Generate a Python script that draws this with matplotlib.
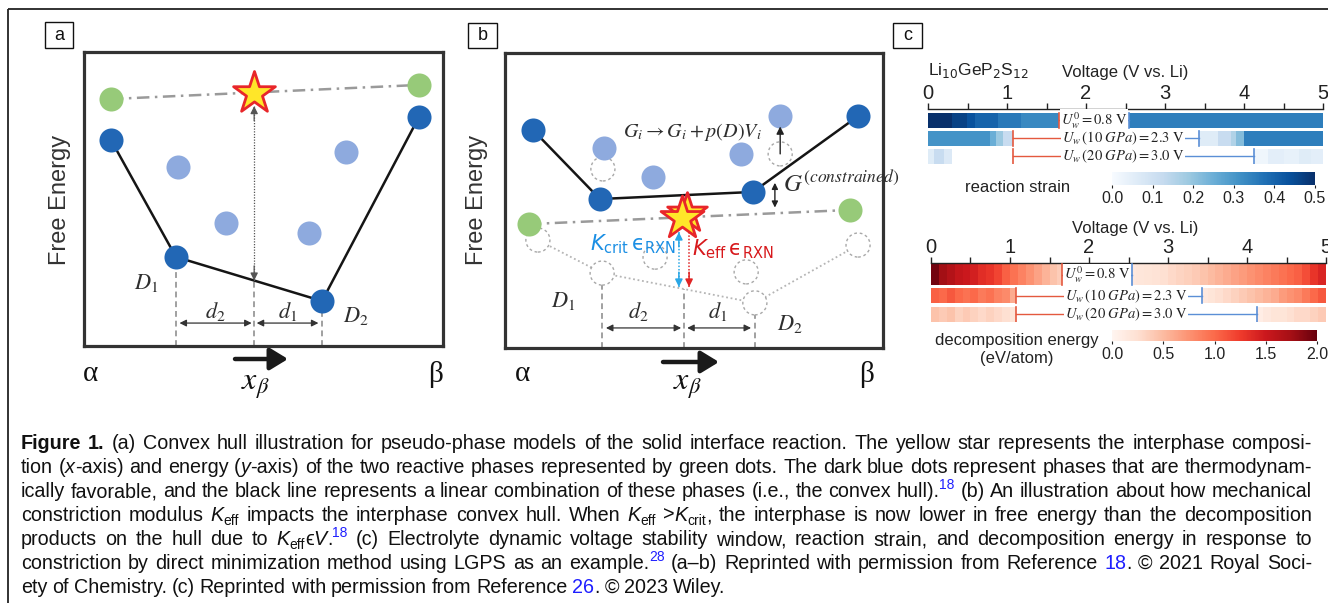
import re
import numpy as np
import matplotlib
matplotlib.use("Agg")
import matplotlib.pyplot as plt
from matplotlib.patches import Rectangle
from matplotlib.cm import ScalarMappable
from matplotlib.colors import Normalize
from matplotlib import font_manager

plt.rcParams['mathtext.fontset'] = 'stix'
SANS = ['Liberation Sans', 'DejaVu Sans']
SERIF = ['Liberation Serif', 'DejaVu Serif']
plt.rcParams['font.family'] = SANS
_names = {f.name for f in font_manager.fontManager.ttflist}
CAP_SANS = (['Liberation Sans Narrow'] if 'Liberation Sans Narrow' in _names else []) + SANS

W, H = 1328, 603
fig = plt.figure(figsize=(W / 100, H / 100), dpi=100, facecolor='white')

# ====================== DATA ======================
# --- panel a : convex hull (composition x_beta in [0,1], free energy in [0,1]) ---
a_green_x = [0.075, 0.933]
a_green_y = [0.840, 0.888]
a_star_x = [0.474]
a_star_y = [0.861]
a_hull_x = [0.075, 0.256, 0.663, 0.933]
a_hull_y = [0.701, 0.303, 0.153, 0.779]
a_light_x = [0.262, 0.396, 0.730, 0.627]
a_light_y = [0.609, 0.418, 0.660, 0.384]

# --- panel b : constrained hull ---
b_green_x = [0.063, 0.913]
b_green_y = [0.420, 0.468]
b_star_x = [0.468]
b_star_y = [0.441]
b_hull_x = [0.074, 0.251, 0.656, 0.934]
b_hull_y = [0.739, 0.505, 0.529, 0.786]
b_light_x = [0.262, 0.392, 0.624, 0.728]
b_light_y = [0.678, 0.580, 0.658, 0.786]
b_ghost_x = [0.259, 0.728]
b_ghost_y = [0.607, 0.658]
b_old_x = [0.087, 0.257, 0.397, 0.638, 0.661, 0.934]
b_old_y = [0.366, 0.254, 0.308, 0.258, 0.153, 0.349]
b_oldhull_x = [0.087, 0.257, 0.661, 0.934]
b_oldhull_y = [0.366, 0.254, 0.153, 0.349]

# --- panel c : voltage windows (V vs Li) ---
volt_ticks = [0, 1, 2, 3, 4, 5]
win_low = [1.66, 1.08, 1.08]
win_high = [2.55, 3.43, 4.13]
win_labels = [r'$U_w^0 = 0.8\ \mathrm{V}$',
              r'$U_w\,(10\ GPa) = 2.3\ \mathrm{V}$',
              r'$U_w\,(20\ GPa) = 3.0\ \mathrm{V}$']

nan = np.nan
# reaction strain rows (segment edges in V, values)
strain_edges = [
    [0.0, 0.3, 0.49, 0.6, 0.89, 1.18, 1.66, 2.55, 5.0],
    [0.0, 0.78, 0.86, 0.95, 1.08, 3.43, 3.67, 3.84, 3.9, 4.0, 5.0],
    [0.0, 0.08, 0.2, 0.3, 4.13, 4.3, 4.5, 4.7, 4.85, 5.0],
]
strain_vals = [
    [0.50, 0.465, 0.435, 0.40, 0.36, 0.33, nan, 0.35],
    [0.31, 0.25, 0.19, 0.12, nan, 0.06, 0.12, 0.16, 0.22, 0.35],
    [0.06, 0.12, 0.07, nan, 0.02, 0.05, 0.04, 0.06, 0.05],
]
strain_ticks = [0.0, 0.1, 0.2, 0.3, 0.4, 0.5]

# decomposition energy rows (eV/atom)
decomp_edges = [
    [0.0, 0.1, 0.2, 0.3, 0.4, 0.5, 0.6, 0.7, 0.8, 0.9, 1.0, 1.1, 1.2, 1.3, 1.4, 1.5, 1.6, 1.66,
     2.55, 2.6, 2.7, 2.8, 2.9, 3.0, 3.1, 3.2, 3.3, 3.4, 3.5, 3.6, 3.7, 3.8, 3.9, 4.0, 4.1, 4.2,
     4.3, 4.4, 4.5, 4.6, 4.7, 4.8, 4.9, 5.0],
    [0.0, 0.1, 0.2, 0.3, 0.4, 0.5, 0.6, 0.7, 0.8, 0.9, 1.0, 1.08,
     3.43, 3.5, 3.6, 3.7, 3.8, 3.9, 4.0, 4.1, 4.2, 4.3, 4.4, 4.5, 4.6, 4.7, 4.8, 4.9, 5.0],
    [0.0, 0.1, 0.2, 0.3, 0.4, 0.5, 0.6, 0.7, 0.8, 0.9, 1.0, 1.08,
     4.13, 4.2, 4.3, 4.4, 4.5, 4.6, 4.7, 4.8, 4.9, 5.0],
]
decomp_vals = [
    [1.95, 1.75, 1.65, 1.55, 1.50, 1.45, 1.35, 1.30, 1.20, 1.05, 0.95, 0.85, 0.75, 0.65, 0.55,
     0.45, 0.38, nan,
     0.15, 0.18, 0.20, 0.22, 0.25, 0.30, 0.33, 0.36, 0.40, 0.45, 0.50, 0.55, 0.60, 0.65, 0.70,
     0.75, 0.80, 0.85, 0.90, 0.95, 1.00, 1.05, 1.15, 1.30, 1.40],
    [1.05, 1.00, 1.10, 1.00, 0.95, 1.00, 0.90, 0.95, 0.85, 0.80, 0.60, nan,
     0.15, 0.20, 0.25, 0.30, 0.35, 0.40, 0.45, 0.50, 0.55, 0.60, 0.70, 0.75, 0.80, 0.90, 1.00, 1.10],
    [0.45, 0.40, 0.45, 0.35, 0.40, 0.35, 0.30, 0.35, 0.30, 0.25, 0.20, nan,
     0.10, 0.15, 0.20, 0.20, 0.25, 0.30, 0.30, 0.35, 0.40],
]
decomp_ticks = [0.0, 0.5, 1.0, 1.5, 2.0]

CAPTION = [
    "**Figure 1.**  (a) Convex hull illustration for pseudo-phase models of the solid interface reaction. The yellow star represents the interphase composi-",
    "tion (*x*-axis) and energy (*y*-axis) of the two reactive phases represented by green dots. The dark blue dots represent phases that are thermodynam-",
    "ically favorable, and the black line represents a linear combination of these phases (i.e., the convex hull).^{18} (b) An illustration about how mechanical",
    "constriction modulus *K*_{eff} impacts the interphase convex hull. When *K*_{eff} >*K*_{crit}, the interphase is now lower in free energy than the decomposition",
    "products on the hull due to *K*_{eff}ϵ*V*.^{18} (c) Electrolyte dynamic voltage stability window, reaction strain, and decomposition energy in response to",
    "constriction by direct minimization method using LGPS as an example.^{28} (a–b) Reprinted with permission from Reference [18]. © 2021 Royal Soci-",
    "ety of Chemistry. (c) Reprinted with permission from Reference [26]. © 2023 Wiley.",
]

# ====================== STYLE ======================
DARK = '#2267b5'
LIGHT = '#8eaade'
GREEN = '#97ca79'
GRAY_LINE = '#9a9a9a'
TXT = '#2e2e2e'
RED_W = '#e4593f'
BLUE_W = '#5b8fd6'
CIRC = 300


def fbox(l, t, r, b):
    return [l / W, 1 - b / H, (r - l) / W, (b - t) / H]


# overlay in pixel coordinates
ov = fig.add_axes([0, 0, 1, 1])
ov.set_xlim(0, W)
ov.set_ylim(H, 0)
ov.set_autoscale_on(False)
ov.axis('off')

# figure frame (top and left)
ov.plot([8, W], [9, 9], color='#222', lw=1.3, solid_capstyle='butt')
ov.plot([8, 8], [9, H], color='#222', lw=1.3, solid_capstyle='butt')

# panel labels
for lab, (x0, y0, x1, y1) in zip(['a', 'b', 'c'],
                                 [(45, 22, 73, 48), (468, 23, 497, 48), (893, 23, 922, 48)]):
    ov.add_patch(Rectangle((x0, y0), x1 - x0, y1 - y0, fill=False, lw=1.0, ec='#111'))
    ov.text((x0 + x1) / 2, (y0 + y1) / 2 + 0.5, lab, fontsize=13, ha='center', va='center', color='#111')


def arrow(ax, x0, y0, x1, y1, style='-|>', color='#222', lw=1.0, ms=10, zorder=5):
    ax.annotate('', xy=(x1, y1), xytext=(x0, y0),
                arrowprops=dict(arrowstyle=style, color=color, lw=lw, mutation_scale=ms,
                                shrinkA=0, shrinkB=0), zorder=zorder)


def diagram_axes(box):
    ax = fig.add_axes(fbox(*box))
    ax.set_xlim(0, 1)
    ax.set_ylim(0, 1)
    ax.set_xticks([])
    ax.set_yticks([])
    for s in ax.spines.values():
        s.set_linewidth(2.3)
        s.set_color('#333')
    return ax


def dotted_arrow(ax, x, y_top, y_bot, color, both=True, lw=1.0):
    ax.plot([x, x], [y_top, y_bot], color=color, lw=lw, ls=(0, (1, 1.2)), zorder=4)
    arrow(ax, x, y_bot + 0.05, x, y_bot, color=color, lw=lw, ms=11)
    if both:
        arrow(ax, x, y_top - 0.05, x, y_top, color=color, lw=lw, ms=11)


def hull_panel(ax, gx, gy, hx, hy, lx, ly):
    ax.plot(gx, gy, color=GRAY_LINE, lw=1.8, ls=(0, (5, 2.2, 1, 2.2)), zorder=2)
    ax.plot(hx, hy, color='#151515', lw=1.8, zorder=2)
    ax.scatter(lx, ly, s=CIRC, color=LIGHT, zorder=3, linewidths=0)
    ax.scatter(hx, hy, s=CIRC, color=DARK, zorder=3, linewidths=0)
    ax.scatter(gx, gy, s=CIRC, color=GREEN, zorder=3, linewidths=0)


# ---------------- panel a ----------------
axA = diagram_axes((84, 52, 443, 346))
hull_panel(axA, a_green_x, a_green_y, a_hull_x, a_hull_y, a_light_x, a_light_y)
axA.scatter(a_star_x, a_star_y, marker='*', s=1000, facecolor='#ffe629', edgecolor='#e8262a',
            linewidths=2.0, zorder=4)
a_mid_y = float(np.interp(a_star_x[0], a_hull_x, a_hull_y))
for xv, yv in zip([a_hull_x[1], a_star_x[0], a_hull_x[2]], [a_hull_y[1], a_mid_y, a_hull_y[2]]):
    axA.plot([xv, xv], [0, yv], color='#a0a0a0', lw=1.4, ls=(0, (3, 2)), zorder=1)
dotted_arrow(axA, a_star_x[0], a_star_y[0] - 0.045, a_mid_y, '#555', lw=0.9)
arrow(axA, a_hull_x[1] + 0.01, 0.078, a_star_x[0] - 0.007, 0.078, style='<|-|>', color='#333', lw=0.9, ms=10)
arrow(axA, a_star_x[0] + 0.007, 0.078, a_hull_x[2] - 0.01, 0.078, style='<|-|>', color='#333', lw=0.9, ms=10)
axA.text(0.365, 0.118, r'$d_2$', fontsize=16, color=TXT, ha='center', va='center')
axA.text(0.568, 0.118, r'$d_1$', fontsize=16, color=TXT, ha='center', va='center')
axA.text(0.173, 0.215, r'$D_1$', fontsize=16, color=TXT, ha='center', va='center')
axA.text(0.758, 0.103, r'$D_2$', fontsize=16, color=TXT, ha='center', va='center')

# ---------------- panel b ----------------
axB = diagram_axes((505, 53, 883, 348))
axB.plot(b_oldhull_x, b_oldhull_y, color='#b5b5b5', lw=1.3, ls=(0, (1, 1.5)), zorder=1)
axB.scatter(b_old_x, b_old_y, s=CIRC, facecolors='white', edgecolors='#a8a8a8',
            linewidths=1.0, linestyles=(0, (2, 2)), zorder=2)
axB.scatter(b_ghost_x, b_ghost_y, s=CIRC, facecolors='white', edgecolors='#a8a8a8',
            linewidths=1.0, linestyles=(0, (2, 2)), zorder=2)
hull_panel(axB, b_green_x, b_green_y, b_hull_x, b_hull_y, b_light_x, b_light_y)
axB.scatter([b_star_x[0] + 0.014], [b_star_y[0] + 0.018], marker='*', s=900, facecolor='#ffe629',
            edgecolor='#e8262a', linewidths=2.0, zorder=4)
axB.scatter(b_star_x, b_star_y, marker='*', s=1050, facecolor='#ffe629', edgecolor='#e8262a',
            linewidths=2.0, zorder=4)
b_mid_y = float(np.interp(0.474, b_oldhull_x, b_oldhull_y))
for xv, yv in zip([b_oldhull_x[1], 0.474, b_oldhull_x[2]], [b_oldhull_y[1], b_mid_y, b_oldhull_y[2]]):
    axB.plot([xv, xv], [0, yv], color='#a0a0a0', lw=1.4, ls=(0, (3, 2)), zorder=1)
dotted_arrow(axB, 0.460, 0.393, 0.207, '#2aa7e6', both=True, lw=1.1)
dotted_arrow(axB, 0.487, 0.393, 0.207, '#e02424', both=False, lw=1.1)
arrow(axB, b_oldhull_x[1] + 0.01, 0.068, 0.466, 0.068, style='<|-|>', color='#333', lw=0.9, ms=10)
arrow(axB, 0.482, 0.068, b_oldhull_x[2] - 0.01, 0.068, style='<|-|>', color='#333', lw=0.9, ms=10)
arrow(axB, b_ghost_x[1], b_ghost_y[1], b_light_x[3], b_light_y[3] - 0.035, color='#222', lw=1.0, ms=11)
arrow(axB, 0.714, 0.56, 0.714, 0.476, style='<|-|>', color='#222', lw=1.0, ms=9)
axB.text(0.352, 0.125, r'$d_2$', fontsize=16, color=TXT, ha='center', va='center')
axB.text(0.563, 0.125, r'$d_1$', fontsize=16, color=TXT, ha='center', va='center')
axB.text(0.153, 0.160, r'$D_1$', fontsize=16, color=TXT, ha='center', va='center')
axB.text(0.754, 0.082, r'$D_2$', fontsize=16, color=TXT, ha='center', va='center')
axB.text(0.495, 0.732, r'$G_i \rightarrow G_i + p(D)V_i$', fontsize=14.5, color=TXT,
         ha='center', va='center', zorder=6)
axB.text(0.735, 0.556, r'$G^{(constrained)}$', fontsize=18, color=TXT, ha='left', va='center',
         clip_on=False, zorder=6)
axB.text(0.339, 0.352, r'$K_{\mathrm{crit}}\,\mathrm{ϵ}_{\mathrm{RXN}}$', fontsize=15, color='#1b8fe4',
         ha='center', va='center', math_fontfamily='dejavusans', zorder=6)
axB.text(0.603, 0.336, r'$K_{\mathrm{eff}}\,\mathrm{ϵ}_{\mathrm{RXN}}$', fontsize=15, color='#d7191c',
         ha='center', va='center', math_fontfamily='dejavusans', zorder=6)

# axis decorations for a and b
for (fx, fy), (ax_, bx_), (xbx, xby), (ar0, ar1, ary) in zip(
        [(60, 200), (477, 200)], [(90, 436), (522, 867)], [(255, 386), (687, 386)],
        [(235, 288, 359), (663, 719, 362)]):
    ov.text(fx, fy, 'Free Energy', rotation=90, fontsize=17, color='#333', ha='center', va='center')
    ov.text(ax_, 374, 'α', fontsize=21, family=SERIF, color='#111', ha='center', va='center')
    ov.text(bx_, 374, 'β', fontsize=21, family=SERIF, color='#111', ha='center', va='center')
    ov.text(xbx, xby, r'$x_{\beta}$', fontsize=23, color='#111', ha='center', va='center')
    ov.annotate('', xy=(ar1, ary), xytext=(ar0, ary),
                arrowprops=dict(arrowstyle='-|>,head_length=0.9,head_width=0.55', lw=3.2,
                                color='#1a1a1a', mutation_scale=12, shrinkA=0, shrinkB=0))


# ---------------- panel c ----------------
def volt_axes(box, ylims):
    ax = fig.add_axes(fbox(*box))
    ax.set_xlim(0, 5)
    ax.set_ylim(*ylims)
    ax.patch.set_alpha(0)
    ax.xaxis.tick_top()
    ax.set_xticks(volt_ticks)
    ax.set_xticklabels([str(v) for v in volt_ticks])
    ax.set_xticks([0.5, 1.5, 2.5, 3.5, 4.5], minor=True)
    ax.tick_params(axis='x', which='both', direction='out', length=4, width=1, colors='#222',
                   labelsize=14.5, pad=0.5)
    ax.set_yticks([])
    for k in ['left', 'right', 'bottom']:
        ax.spines[k].set_visible(False)
    ax.spines['top'].set_linewidth(1.0)
    ax.spines['top'].set_color('#222')
    return ax


def heat_rows(ax, edges_list, vals_list, bands, cmap, vmax):
    norm = Normalize(0, vmax)
    for e, v, (y0, y1) in zip(edges_list, vals_list, bands):
        c = np.ma.masked_invalid(np.array(v, dtype=float)[None, :])
        ax.pcolormesh(np.array(e), np.array([y0, y1]), c, cmap=cmap, norm=norm, shading='flat')
    for lo, hi, lab, xc, (y0, y1) in zip(win_low, win_high, win_labels, [2.1, 2.47, 2.47], bands):
        ym = (y0 + y1) / 2
        ax.plot([lo, lo], [y0, y1], color=RED_W, lw=1.2, zorder=3)
        ax.plot([hi, hi], [y0, y1], color=BLUE_W, lw=1.2, zorder=3)
        ax.plot([lo, xc], [ym, ym], color=RED_W, lw=1.0, zorder=3)
        ax.plot([xc, hi], [ym, ym], color=BLUE_W, lw=1.0, zorder=3)
        ax.text(xc, ym + 0.5, lab, fontsize=10.5, ha='center', va='center', color='#222', zorder=4,
                bbox=dict(fc='white', ec='none', pad=0.6))


def cbar(box, cmap, vmax, ticks):
    cax = fig.add_axes(fbox(*box))
    cb = fig.colorbar(ScalarMappable(norm=Normalize(0, vmax), cmap=cmap), cax=cax,
                      orientation='horizontal')
    cb.outline.set_visible(False)
    cb.set_ticks(ticks)
    cb.set_ticklabels([f'{t:.1f}' for t in ticks])
    cax.tick_params(labelsize=11.5, length=2, width=0.8, pad=2, colors='#222')
    return cb


axT = volt_axes((928, 109, 1323, 164), (164, 109))
heat_rows(axT, strain_edges, strain_vals, [(113, 127.5), (130.5, 145.5), (148.5, 164)], 'Blues', 0.5)
cbar((1112, 172, 1315, 185), 'Blues', 0.5, strain_ticks)

axD = volt_axes((931, 263, 1326, 322), (322, 263))
heat_rows(axD, decomp_edges, decomp_vals, [(264, 285), (288, 303), (306.5, 322)], 'Reds', 2.0)
cbar((1112, 330, 1317, 341), 'Reds', 2.0, decomp_ticks)

ov.text(928, 71, r'Li$_{10}$GeP$_2$S$_{12}$', fontsize=12.5, ha='left', va='center',
        color='#222', math_fontfamily='dejavusans')
ov.text(1125, 73, 'Voltage (V vs. Li)', fontsize=12, ha='center', va='center', color='#222')
ov.text(1135, 229, 'Voltage (V vs. Li)', fontsize=12, ha='center', va='center', color='#222')
ov.text(1018, 187, 'reaction strain', fontsize=12, ha='center', va='center', color='#222')
ov.text(1017, 340, 'decomposition energy', fontsize=12, ha='center', va='center', color='#222')
ov.text(1017, 358, '(eV/atom)', fontsize=12, ha='center', va='center', color='#222')

# ---------------- caption (justified) ----------------
PIECE_RE = re.compile(r"\*\*(.+?)\*\*|\*(.+?)\*|_\{(.+?)\}|\^\{(.+?)\}|\[(.+?)\]|([^*_^\[]+)")
STYLES = ['b', 'i', 'sub', 'sup', 'link', 'n']


def parse(line):
    pieces = []
    for m in PIECE_RE.finditer(line):
        for g, st in zip(m.groups(), STYLES):
            if g is not None:
                pieces.append((g, st))
                break
    words = [[]]
    for text, st in pieces:
        for j, p in enumerate(text.split(' ')):
            if j > 0 and words[-1]:
                words.append([])
            if p:
                words[-1].append((p, st))
    return [w for w in words if w]


def piece_kw(st, fs):
    px = fs * 100 / 72
    kw = dict(fontsize=fs, color='#111', family=CAP_SANS)
    dy = 0.0
    if st == 'b':
        kw['fontweight'] = 'bold'
        kw['family'] = SANS
    elif st == 'i':
        kw['fontstyle'] = 'italic'
    elif st == 'sub':
        kw['fontsize'] = fs * 0.7
        dy = 0.22 * px
    elif st == 'sup':
        kw['fontsize'] = fs * 0.7
        kw['color'] = '#1f1fff'
        dy = -0.42 * px
    elif st == 'link':
        kw['color'] = '#1f1fff'
    return kw, dy


renderer = fig.canvas.get_renderer()
CAP_X0, CAP_X1 = 21, 1312
CAP_Y = [444 + 24 * k for k in range(len(CAPTION))]


def build(fs):
    out = []
    for line in CAPTION:
        words = parse(line)
        wl = []
        for w in words:
            items = []
            for text, st in w:
                kw, dy = piece_kw(st, fs)
                t = ov.text(0, 0, text, va='baseline', ha='left', **kw)
                items.append((t, dy, t.get_window_extent(renderer).width))
            wl.append(items)
        out.append(wl)
    return out


fs0 = 12.0
tmp = build(fs0)
nat = []
for wl in tmp[:-1]:
    tot = sum(sum(it[2] for it in items) for items in wl)
    nat.append(tot + 0.25 * fs0 * 100 / 72 * (len(wl) - 1))
for wl in tmp:
    for items in wl:
        for it in items:
            it[0].remove()
fs = min(14.5, fs0 * (CAP_X1 - CAP_X0) / max(nat) * 0.99)

lines = build(fs)
space = 0.25 * fs * 100 / 72
for li, wl in enumerate(lines):
    widths = [sum(it[2] for it in items) for items in wl]
    if li < len(lines) - 1:
        gap = (CAP_X1 - CAP_X0 - sum(widths)) / (len(wl) - 1)
    else:
        gap = space
    x = CAP_X0
    base = CAP_Y[li] + 5
    for items, wd in zip(wl, widths):
        xx = x
        for t, dy, w in items:
            t.set_position((xx, base + dy))
            xx += w
        x += wd + gap

fig.savefig('out.png', dpi=100, facecolor='white')
